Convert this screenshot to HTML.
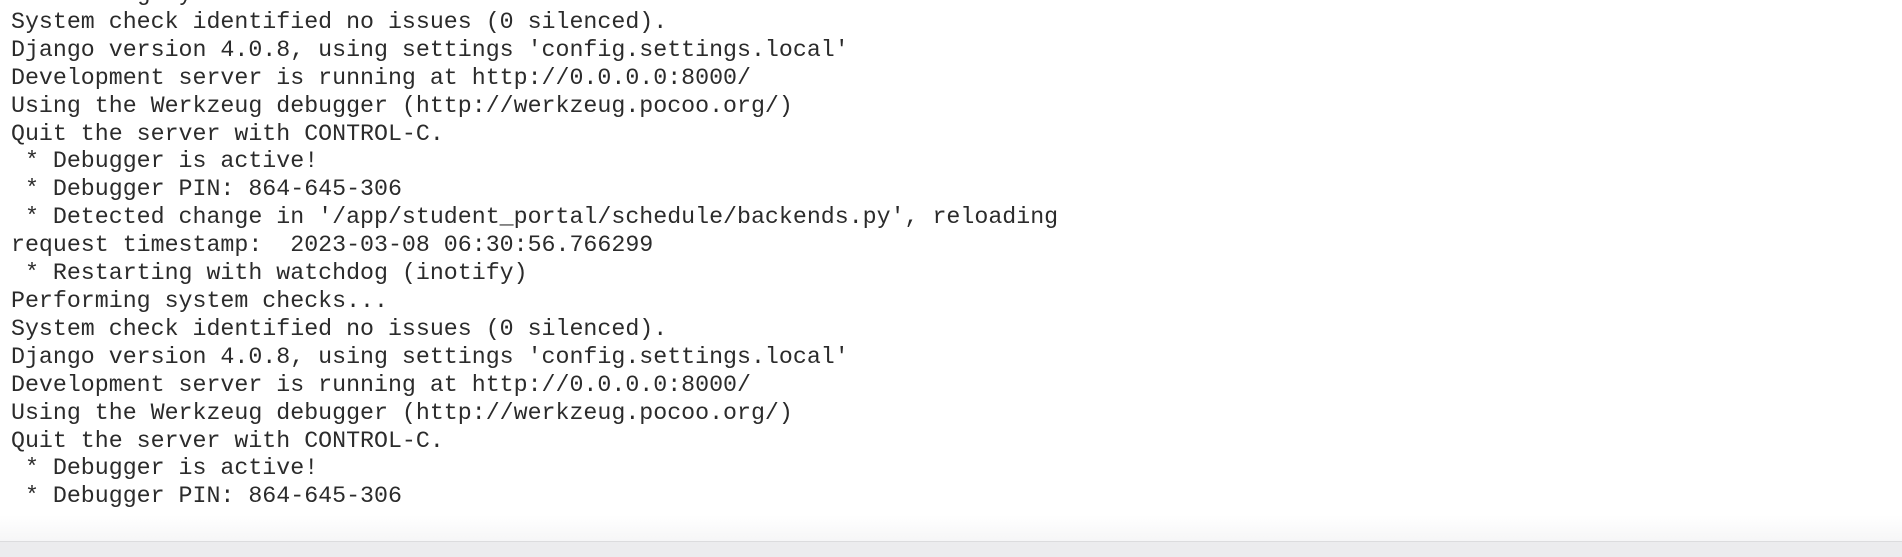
<!DOCTYPE html>
<html><head><meta charset="utf-8"><style>
html,body{margin:0;padding:0;width:1902px;height:556px;overflow:hidden;background:#fff;}
pre{position:absolute;left:11px;top:-19px;margin:0;font-family:"Liberation Mono",monospace;font-size:23.27px;line-height:27.9px;color:#2b2b2b;white-space:pre;}
.bar{position:absolute;left:0;top:541px;width:1902px;height:15px;background:#ececee;border-top:1px solid #dcdcde;}
.fade{position:absolute;left:0;top:515px;width:1902px;height:26px;background:linear-gradient(#fff,#f6f6f7);}
</style></head><body>
<pre>Performing system checks...
System check identified no issues (0 silenced).
Django version 4.0.8, using settings 'config.settings.local'
Development server is running at http://0.0.0.0:8000/
Using the Werkzeug debugger (http://werkzeug.pocoo.org/)
Quit the server with CONTROL-C.
 * Debugger is active!
 * Debugger PIN: 864-645-306
 * Detected change in '/app/student_portal/schedule/backends.py', reloading
request timestamp:  2023-03-08 06:30:56.766299
 * Restarting with watchdog (inotify)
Performing system checks...
System check identified no issues (0 silenced).
Django version 4.0.8, using settings 'config.settings.local'
Development server is running at http://0.0.0.0:8000/
Using the Werkzeug debugger (http://werkzeug.pocoo.org/)
Quit the server with CONTROL-C.
 * Debugger is active!
 * Debugger PIN: 864-645-306</pre>
<div class="fade"></div>
<div class="bar"></div>
</body></html>
